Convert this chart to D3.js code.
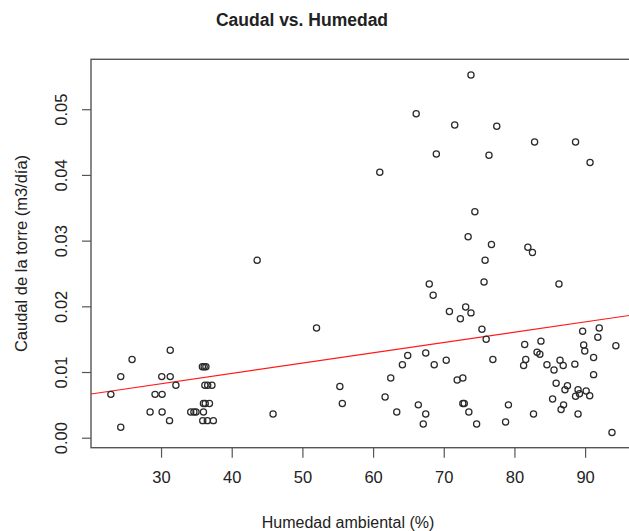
<!DOCTYPE html>
<html>
<head>
<meta charset="utf-8">
<script src="https://cdn.jsdelivr.net/npm/d3@7"></script>
<style>
  body { margin: 0; background: #fff; }
  text { font-family: 'Liberation Sans', Arial, sans-serif; fill: #222; }
</style>
</head>
<body>
<svg id="chart" width="629" height="531"></svg>
<script>
// humedad ambiental (%) y caudal de la torre (m3/dia)
const humedad = [
  22.9, 24.3, 25.9, 24.3, 31.3, 30.1, 31.3, 32.1, 29.15, 30.15, 28.45, 30.15, 31.2,
  35.85, 36.1, 36.35, 36.2, 36.6, 37.2, 36.0, 36.25, 36.85, 34.2, 34.65, 34.95, 36.0,
  35.9, 36.55, 37.4,
  43.6, 45.85, 52.0, 55.3, 55.65, 60.95, 61.7, 62.5, 63.35, 64.15, 64.9, 66.1, 66.4,
  67.1, 67.45, 67.45, 67.95, 68.5, 68.65, 68.95, 70.35, 70.8, 71.55, 71.9, 72.35, 72.7,
  72.7, 72.9, 73.1, 73.45, 73.55, 73.85, 73.85, 74.4, 74.65, 75.4, 75.85, 75.7, 76.0,
  76.4, 76.75, 76.95, 77.5, 78.75, 79.15, 81.3, 81.45, 81.6, 81.9, 82.55, 82.7, 82.85,
  83.2, 83.6, 83.75, 84.6, 85.4, 85.6, 85.9, 86.3, 86.45, 86.6, 86.9, 86.95, 87.15,
  87.5, 88.55, 88.65, 88.65, 89.0, 89.2, 89.0, 89.65, 89.8, 89.95, 90.15, 90.65, 90.7,
  91.2, 91.2, 91.8, 92.0, 93.8, 94.35
]
const caudal = [
  0.0066, 0.0093, 0.0119, 0.0016, 0.0133, 0.0093, 0.0093, 0.0080, 0.0066, 0.0066, 0.0039, 0.0039, 0.0026,
  0.0108, 0.0108, 0.0108, 0.0080, 0.0080, 0.0080, 0.0052, 0.0052, 0.0052, 0.0039, 0.0039, 0.0039, 0.0039,
  0.0026, 0.0026, 0.0026,
  0.0270, 0.0036, 0.0167, 0.0078, 0.0052, 0.0404, 0.0062, 0.0091, 0.0039, 0.0111, 0.0125, 0.0493, 0.0050,
  0.0021, 0.0036, 0.0129, 0.0234, 0.0217, 0.0111, 0.0432, 0.0118, 0.0192, 0.0476, 0.0088, 0.0181, 0.0091,
  0.0052, 0.0052, 0.0199, 0.0306, 0.0039, 0.0552, 0.0190, 0.0344, 0.0021, 0.0165, 0.0270, 0.0237, 0.0150,
  0.0430, 0.0294, 0.0119, 0.0474, 0.0024, 0.0050, 0.0110, 0.0142, 0.0119, 0.0290, 0.0282, 0.0036, 0.0450,
  0.0130, 0.0127, 0.0147, 0.0111, 0.0059, 0.0103, 0.0083, 0.0234, 0.0118, 0.0043, 0.0110, 0.0050, 0.0073,
  0.0079, 0.0112, 0.0450, 0.0063, 0.0073, 0.0067, 0.0036, 0.0162, 0.0141, 0.0132, 0.0071, 0.0064, 0.0419,
  0.0122, 0.0096, 0.0153, 0.0167, 0.0008, 0.0140
]
const xTicks = [30, 40, 50, 60, 70, 80, 90]
const yTicks = [0.00, 0.01, 0.02, 0.03, 0.04, 0.05]
// recta de regresion (abline)
const intercepto = 0.0035
const pendiente = 0.000157

const data = humedad.map((h, i) => ({ h: h, q: caudal[i] }))

const svg = d3.select('#chart')
const margin = { top: 59.3, left: 91, bottom: 83.3 }
const plotW = 545 // el panel sigue fuera de la imagen por la derecha
const plotH = 531 - margin.top - margin.bottom

const x = d3.scaleLinear()
  .domain([20.09, 97.2])
  .range([margin.left, margin.left + plotW])
const y = d3.scaleLinear()
  .domain([-0.00152, 0.0576])
  .range([margin.top + plotH, margin.top])

//* * ejes
const gx = svg.append('g')
  .attr('transform', `translate(0,${margin.top + plotH})`)
  .call(d3.axisBottom(x).tickValues(xTicks).tickSize(10).tickPadding(14))
gx.select('.domain').remove()
gx.selectAll('line').attr('stroke', '#555').attr('stroke-width', 1.2)
gx.selectAll('text').attr('font-size', 16.5).attr('fill', '#222')

const gy = svg.append('g')
  .attr('transform', `translate(${margin.left},0)`)
  .call(d3.axisLeft(y).tickValues(yTicks).tickSize(9).tickFormat(d3.format('.2f')))
gy.select('.domain').remove()
gy.selectAll('line').attr('stroke', '#555').attr('stroke-width', 1.2)
gy.selectAll('text')
  .attr('font-size', 16.5)
  .attr('fill', '#222')
  .attr('x', 0)
  .attr('dy', 0)
  .attr('text-anchor', 'middle')
  .attr('transform', 'translate(-24.5,0) rotate(-90)')

//* * recta de regresion
const clip = svg.append('clipPath').attr('id', 'panel')
clip.append('rect')
  .attr('x', margin.left).attr('y', margin.top)
  .attr('width', plotW).attr('height', plotH)

svg.append('line')
  .attr('clip-path', 'url(#panel)')
  .attr('x1', x(x.domain()[0]))
  .attr('y1', y(intercepto + pendiente * x.domain()[0]))
  .attr('x2', x(x.domain()[1]))
  .attr('y2', y(intercepto + pendiente * x.domain()[1]))
  .attr('stroke', '#ff1a1a')
  .attr('stroke-width', 1.2)

//* * puntos
svg.append('g')
  .selectAll('circle')
  .data(data)
  .enter().append('circle')
  .attr('cx', (d) => {
    return x(d.h)
  })
  .attr('cy', (d) => {
    return y(d.q)
  })
  .attr('r', 3.1)
  .attr('fill', 'none')
  .attr('stroke', '#2a2a2a')
  .attr('stroke-width', 1.25)

//* * marco
svg.append('rect')
  .attr('x', margin.left).attr('y', margin.top)
  .attr('width', plotW).attr('height', plotH)
  .attr('fill', 'none')
  .attr('stroke', '#555')
  .attr('stroke-width', 1.4)

//* * titulos
svg.append('text')
  .attr('x', 302).attr('y', 26)
  .attr('text-anchor', 'middle')
  .attr('font-size', 17.5)
  .attr('font-weight', 'bold')
  .attr('fill', '#111')
  .text('Caudal vs. Humedad')

svg.append('text')
  .attr('x', 348).attr('y', 528)
  .attr('text-anchor', 'middle')
  .attr('font-size', 16)
  .text('Humedad ambiental (%)')

svg.append('text')
  .attr('transform', `translate(27,${margin.top + plotH / 2}) rotate(-90)`)
  .attr('text-anchor', 'middle')
  .attr('font-size', 16.5)
  .text('Caudal de la torre (m3/día)')
</script>
</body>
</html>
